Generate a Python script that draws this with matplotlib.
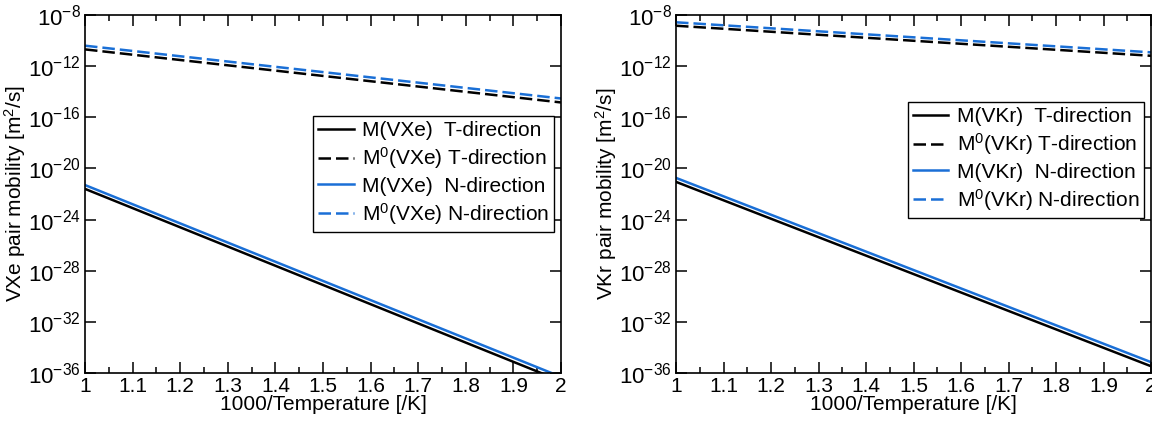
import numpy as np
import matplotlib
matplotlib.use('Agg')
import matplotlib.pyplot as plt
from matplotlib.ticker import FixedLocator, MultipleLocator, FuncFormatter

plt.rcParams['font.family'] = ['Liberation Sans', 'DejaVu Sans']
plt.rcParams['mathtext.fontset'] = 'custom'
plt.rcParams['mathtext.rm'] = 'Liberation Sans'
plt.rcParams['mathtext.it'] = 'Liberation Sans:italic'

# end points (x = 1000/T) of each Arrhenius line, log10 of mobility
x_ends = [1.0, 2.0]

xe_M_T = [-21.6, -36.63]
xe_M0_T = [-10.69, -14.84]
xe_M_N = [-21.3, -36.3]
xe_M0_N = [-10.40, -14.53]

kr_M_T = [-21.05, -35.47]
kr_M0_T = [-8.84, -11.19]
kr_M_N = [-20.74, -35.15]
kr_M0_N = [-8.57, -10.92]

blue = '#1a6fd6'


def y_fmt(v, pos):
    e = int(round(np.log10(v)))
    return r'$\mathregular{10^{%d}}$' % e


def setup_axes(ax, ylabel):
    ax.set_yscale('log')
    ax.set_xlim(1, 2)
    ax.set_ylim(1e-36, 1e-8)
    ax.xaxis.set_major_locator(MultipleLocator(0.1))
    ax.xaxis.set_minor_locator(MultipleLocator(0.05))
    ax.xaxis.set_major_formatter(FuncFormatter(lambda v, p: '%g' % round(v, 2)))
    ax.yaxis.set_major_locator(FixedLocator([10.0 ** e for e in range(-36, -7, 4)]))
    ax.yaxis.set_minor_locator(FixedLocator([]))
    ax.yaxis.set_major_formatter(FuncFormatter(y_fmt))
    ax.tick_params(which='both', direction='in', top=True, right=True, width=1.1)
    ax.tick_params(axis='x', labelsize=15, pad=3)
    ax.tick_params(axis='y', labelsize=16, pad=3)
    ax.tick_params(which='major', length=8)
    ax.tick_params(which='minor', length=4)
    for s in ax.spines.values():
        s.set_linewidth(1.2)
    ax.set_xlabel('1000/Temperature [/K]', fontsize=15, labelpad=-1)
    ax.set_ylabel(ylabel, fontsize=15, labelpad=0)


def draw(ax, name, m_t, m0_t, m_n, m0_n):
    dash = (0, (5, 2))
    ax.plot(x_ends, 10.0 ** np.array(m_t), color='black', lw=1.8,
            label='M(%s)  T-direction' % name)
    ax.plot(x_ends, 10.0 ** np.array(m0_t), color='black', lw=1.8, ls=dash,
            label=r'M$^0$(%s) T-direction' % name)
    ax.plot(x_ends, 10.0 ** np.array(m_n), color=blue, lw=1.8,
            label='M(%s)  N-direction' % name)
    ax.plot(x_ends, 10.0 ** np.array(m0_n), color=blue, lw=1.8, ls=dash,
            label=r'M$^0$(%s) N-direction' % name)


fig = plt.figure(figsize=(11.52, 4.22), dpi=100)
W, H = 1152.0, 422.0
ax1 = fig.add_axes([85 / W, 1 - 373 / H, (561 - 85) / W, (373 - 15) / H])
ax2 = fig.add_axes([676 / W, 1 - 373 / H, (1151 - 676) / W, (373 - 15) / H])

draw(ax1, 'VXe', xe_M_T, xe_M0_T, xe_M_N, xe_M0_N)
draw(ax2, 'VKr', kr_M_T, kr_M0_T, kr_M_N, kr_M0_N)
setup_axes(ax1, r'VXe pair mobility [m$^2$/s]')
setup_axes(ax2, r'VKr pair mobility [m$^2$/s]')

for ax, loc in [(ax1, (0.479, 0.394)), (ax2, (0.488, 0.433))]:
    leg = ax.legend(loc='lower left', bbox_to_anchor=loc, fontsize=15,
                    frameon=True, fancybox=False, framealpha=1,
                    handlelength=1.7, handletextpad=0.4, labelspacing=0.25,
                    borderpad=0.25, borderaxespad=0)
    leg.get_frame().set_edgecolor('black')
    leg.get_frame().set_linewidth(1.0)

plt.savefig('out.png', dpi=100)
